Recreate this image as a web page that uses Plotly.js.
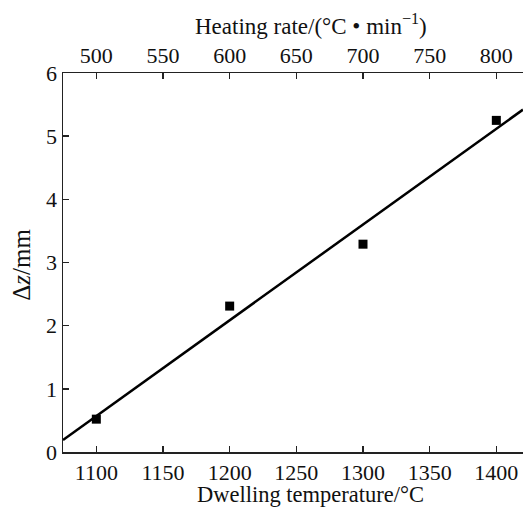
<!DOCTYPE html>
<html>
<head>
<meta charset="utf-8">
<script src="https://cdn.plot.ly/plotly-3.0.1.min.js"></script>
<style>html,body{margin:0;padding:0;background:#fff;}#chart{width:524px;height:508px;}</style>
</head>
<body>
<div id="chart"></div>
<script>
// Data
const dwellingTemp = [1100, 1200, 1300, 1400];
const heatingRate = [500, 600, 700, 800];
const deltaZ = [0.52, 2.31, 3.29, 5.25];
// Fitted line endpoints
const fitX = [1075, 1420];
const fitY = [0.19, 5.42];

const bottomTicks = [1100, 1150, 1200, 1250, 1300, 1350, 1400];
const topTicks = [500, 550, 600, 650, 700, 750, 800];
const yTicks = [0, 1, 2, 3, 4, 5, 6];

const FAM = 'Liberation Serif';
const tickFont = {family: FAM, color: '#111', size: 22};
const topTitleFont = {family: FAM, color: '#111', size: 23};
const bottomTitleFont = {family: FAM, color: '#111', size: 22.5};
const yTitleFont = {family: FAM, color: '#111', size: 25};

const traces = [
  {x: fitX, y: fitY, mode: 'lines', line: {color: '#000', width: 2.5}, showlegend: false, hoverinfo: 'skip'},
  {x: dwellingTemp, y: deltaZ, mode: 'markers', marker: {symbol: 'square', size: 9, color: '#000'}, showlegend: false},
  {x: heatingRate, y: deltaZ, xaxis: 'x2', mode: 'markers', marker: {size: 1, color: 'rgba(0,0,0,0)'}, showlegend: false, hoverinfo: 'skip'}
];

const axisCommon = {
  showgrid: false, zeroline: false, showline: true, linecolor: '#222', linewidth: 1.5,
  ticks: 'inside', ticklen: 6, tickwidth: 1.5, tickcolor: '#222', tickfont: tickFont
};

const layout = {
  width: 524, height: 508,
  margin: {l: 63, r: 1, t: 73, b: 56},
  paper_bgcolor: '#fff', plot_bgcolor: '#fff',
  font: tickFont,
  xaxis: Object.assign({}, axisCommon, {
    range: [1075, 1420], tickvals: bottomTicks, ticktext: bottomTicks.map(String)
  }),
  xaxis2: Object.assign({}, axisCommon, {
    range: [475, 820], overlaying: 'x', side: 'top', anchor: 'y',
    tickvals: topTicks, ticktext: topTicks.map(String)
  }),
  yaxis: Object.assign({}, axisCommon, {
    range: [0, 6], tickvals: yTicks, ticktext: yTicks.map(String)
  }),
  annotations: [
    {text: 'Heating rate/(°C • min<sup>−1</sup>)', xref: 'paper', yref: 'paper', x: 0.539, y: 1.127,
     xanchor: 'center', yanchor: 'middle', showarrow: false, font: topTitleFont},
    {text: 'Dwelling temperature/°C', xref: 'paper', yref: 'paper', x: 0.539, y: -0.113,
     xanchor: 'center', yanchor: 'middle', showarrow: false, font: bottomTitleFont, borderpad: 0},
    {text: 'Δ<i>z</i>/mm', xref: 'paper', yref: 'paper', x: -0.09, y: 0.493, textangle: -90,
     xanchor: 'center', yanchor: 'middle', showarrow: false, font: yTitleFont}
  ]
};

Plotly.newPlot('chart', traces, layout, {displayModeBar: false, staticPlot: true});
</script>
</body>
</html>
